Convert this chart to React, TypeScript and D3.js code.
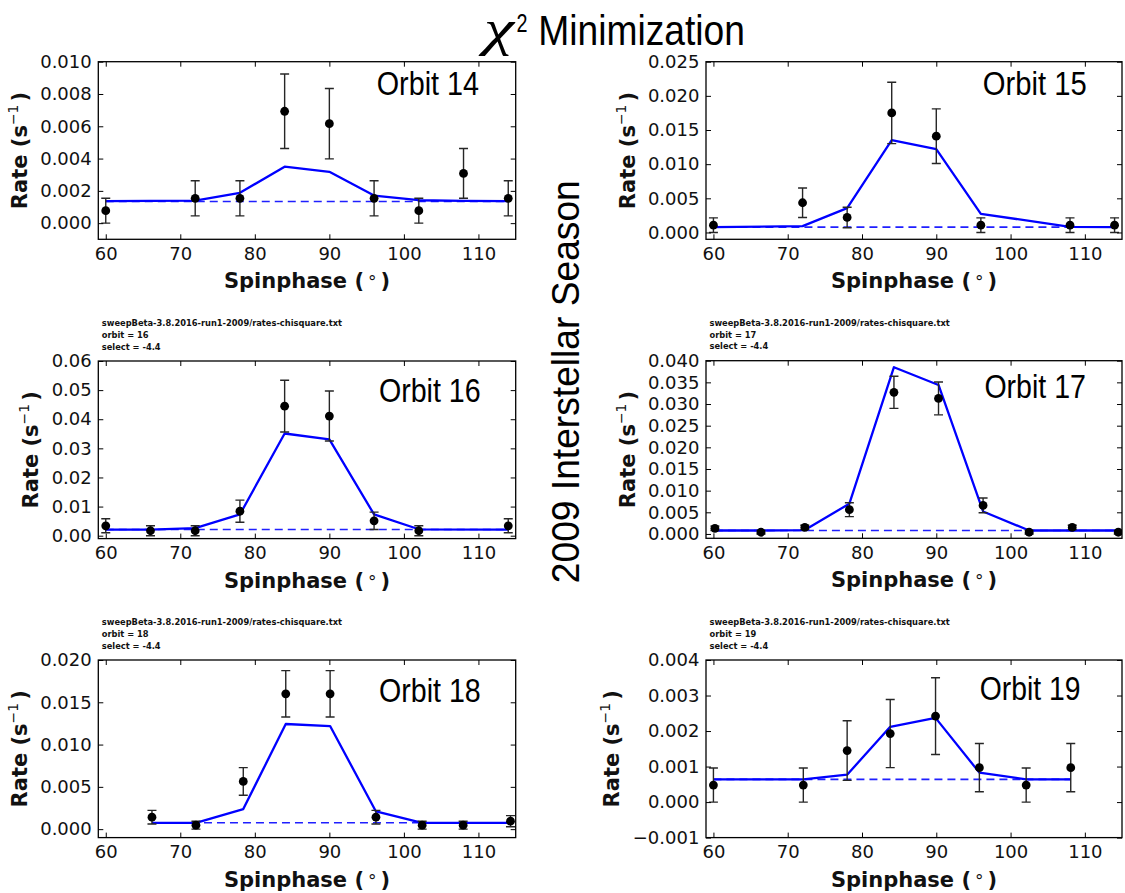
import { useEffect, useRef } from "react";
import * as d3 from "d3";

const WIDTH = 1125;
const HEIGHT = 893;

// ---- Orbit 14 ----
const orbit14Phase = [60, 72, 78, 84, 90, 96, 102, 108, 114];
const orbit14Rate = [0.00077, 0.00154, 0.00154, 0.00693, 0.00616, 0.00154, 0.00077, 0.00308, 0.00154];
const orbit14Err = [0.00077, 0.00109, 0.00109, 0.00231, 0.00218, 0.00109, 0.00077, 0.00154, 0.00109];
const orbit14Model = [0.00136, 0.0014, 0.00188, 0.0035, 0.00318, 0.00171, 0.00142, 0.00138, 0.00136];
const orbit14Base = 0.00134;
const orbit14Ticks = [0, 0.002, 0.004, 0.006, 0.008, 0.01];

// ---- Orbit 15 ----
const orbit15Phase = [60, 72, 78, 84, 90, 96, 108, 114];
const orbit15Rate = [0.00107, 0.00435, 0.0022, 0.0175, 0.0141, 0.00107, 0.00107, 0.00107];
const orbit15Err = [0.00107, 0.00215, 0.0015, 0.0045, 0.004, 0.00107, 0.00107, 0.00107];
const orbit15Model = [0.00078, 0.00093, 0.00356, 0.01353, 0.0122, 0.00273, 0.00083, 0.00078];
const orbit15Base = 0.00078;
const orbit15Ticks = [0, 0.005, 0.01, 0.015, 0.02, 0.025];

// ---- Orbit 16 ----
const orbit16Phase = [60, 66, 72, 78, 84, 90, 96, 102, 114];
const orbit16Rate = [0.0034, 0.0017, 0.0017, 0.0084, 0.0445, 0.0411, 0.0051, 0.0017, 0.0034];
const orbit16Err = [0.0024, 0.0017, 0.0017, 0.0038, 0.0089, 0.0086, 0.003, 0.0017, 0.0024];
const orbit16Model = [0.0021, 0.0021, 0.0026, 0.0073, 0.0351, 0.0331, 0.0073, 0.0022, 0.0021];
const orbit16Base = 0.0021;
const orbit16Ticks = [0, 0.01, 0.02, 0.03, 0.04, 0.05, 0.06];

// ---- Orbit 17 ----
const orbit17Phase = [60.2, 66.4, 72.3, 78.3, 84.3, 90.3, 96.3, 102.5, 108.3, 114.5];
const orbit17Rate = [0.0013, 0.0004, 0.0015, 0.0056, 0.0327, 0.0313, 0.0066, 0.0004, 0.0015, 0.0004];
const orbit17Err = [0.0005, 0.0004, 0.0005, 0.0016, 0.0037, 0.0038, 0.0017, 0.0004, 0.0005, 0.0004];
const orbit17Model = [0.0008, 0.0008, 0.0009, 0.007, 0.0385, 0.0344, 0.0052, 0.0008, 0.0008, 0.0008];
const orbit17Base = 0.0008;
const orbit17Ticks = [0, 0.005, 0.01, 0.015, 0.02, 0.025, 0.03, 0.035, 0.04];

// ---- Orbit 18 ----
const orbit18Phase = [66.2, 72.1, 78.45, 84.15, 90.1, 96.25, 102.45, 107.95, 114.3];
const orbit18Rate = [0.00141, 0.00047, 0.00564, 0.016, 0.016, 0.00141, 0.00047, 0.00047, 0.00094];
const orbit18Err = [0.00081, 0.00047, 0.00163, 0.00274, 0.00274, 0.00081, 0.00047, 0.00047, 0.00066];
const orbit18Model = [0.00075, 0.00075, 0.00237, 0.01243, 0.01219, 0.00209, 0.00075, 0.00075, 0.00075];
const orbit18Base = 0.00075;
const orbit18Ticks = [0, 0.005, 0.01, 0.015, 0.02];

// ---- Orbit 19 ----
const orbit19Phase = [60, 72.1, 78, 83.8, 89.9, 95.8, 102.1, 108.1];
const orbit19Rate = [0.00048, 0.00048, 0.00145, 0.00193, 0.00242, 0.00097, 0.00048, 0.00097];
const orbit19Err = [0.00048, 0.00048, 0.00084, 0.00096, 0.00108, 0.00068, 0.00048, 0.00068];
const orbit19Model = [0.00064, 0.00064, 0.00077, 0.00212, 0.00237, 0.00083, 0.00064, 0.00064];
const orbit19Base = 0.00064;
const orbit19Ticks = [-0.001, 0, 0.001, 0.002, 0.003, 0.004];

const phaseTicks = [60, 70, 80, 90, 100, 110];
const phaseDomain = [59, 115];

const headerFile = "sweepBeta-3.8.2016-run1-2009/rates-chisquare.txt";
const headerSelect = "select = -4.4";

const panels = [
  { name: "Orbit 14", orbit: 14, phase: orbit14Phase, rate: orbit14Rate, err: orbit14Err, model: orbit14Model, base: orbit14Base, yDomain: [-0.001, 0.01], yTicks: orbit14Ticks, yFormat: ".3f", header: false },
  { name: "Orbit 15", orbit: 15, phase: orbit15Phase, rate: orbit15Rate, err: orbit15Err, model: orbit15Model, base: orbit15Base, yDomain: [-0.001, 0.025], yTicks: orbit15Ticks, yFormat: ".3f", header: false },
  { name: "Orbit 16", orbit: 16, phase: orbit16Phase, rate: orbit16Rate, err: orbit16Err, model: orbit16Model, base: orbit16Base, yDomain: [-0.001, 0.06], yTicks: orbit16Ticks, yFormat: ".2f", header: true },
  { name: "Orbit 17", orbit: 17, phase: orbit17Phase, rate: orbit17Rate, err: orbit17Err, model: orbit17Model, base: orbit17Base, yDomain: [-0.001, 0.04], yTicks: orbit17Ticks, yFormat: ".3f", header: true },
  { name: "Orbit 18", orbit: 18, phase: orbit18Phase, rate: orbit18Rate, err: orbit18Err, model: orbit18Model, base: orbit18Base, yDomain: [-0.001, 0.02], yTicks: orbit18Ticks, yFormat: ".3f", header: true },
  { name: "Orbit 19", orbit: 19, phase: orbit19Phase, rate: orbit19Rate, err: orbit19Err, model: orbit19Model, base: orbit19Base, yDomain: [-0.001, 0.004], yTicks: orbit19Ticks, yFormat: ".3f", header: true },
];

// Axes boxes and in-plot label placement
const layout = [
  { left: 98.3, top: 61.7, w: 417.4, h: 177.6, labelX: 376.7, labelW: 102.3, labelY: 95 },
  { left: 706, top: 61.7, w: 416, h: 177.6, labelX: 982.7, labelW: 104, labelY: 95 },
  { left: 98.3, top: 361, w: 417.4, h: 177.6, labelX: 378.9, labelW: 101.8, labelY: 402 },
  { left: 706, top: 360.7, w: 416, h: 177.6, labelX: 984.4, labelW: 101.6, labelY: 398.2 },
  { left: 98.3, top: 660, w: 417.4, h: 177.6, labelX: 379, labelW: 101.7, labelY: 702 },
  { left: 706, top: 660, w: 416, h: 177.6, labelX: 979.8, labelW: 100.8, labelY: 700 },
];

const TICK_FONT = "'DejaVu Sans', sans-serif";
const TITLE_FONT = "'Liberation Sans', Arial, sans-serif";
const GREEK_FONT = "'Liberation Serif', 'DejaVu Serif', serif";

export default function App() {
  const ref = useRef<SVGSVGElement | null>(null);

  useEffect(() => {
    const svg = d3.select(ref.current);
    svg.selectAll("*").remove();

    svg.append("rect").attr("width", WIDTH).attr("height", HEIGHT).attr("fill", "#ffffff");

    // Figure title
    const title = svg.append("g").attr("fill", "#000");
    title.append("text")
      .attr("x", 484).attr("y", 45)
      .attr("font-family", GREEK_FONT).attr("font-size", 50).attr("font-style", "italic")
      .attr("textLength", 30).attr("lengthAdjust", "spacingAndGlyphs")
      .text("χ");
    title.append("text")
      .attr("x", 516.5).attr("y", 31.7)
      .attr("font-family", TITLE_FONT).attr("font-size", 25)
      .attr("textLength", 11).attr("lengthAdjust", "spacingAndGlyphs")
      .text("2");
    title.append("text")
      .attr("x", 538.3).attr("y", 45)
      .attr("font-family", TITLE_FONT).attr("font-size", 42)
      .attr("textLength", 206.7).attr("lengthAdjust", "spacingAndGlyphs")
      .text("Minimization");

    // Season label between the columns
    svg.append("text")
      .attr("transform", "translate(579.3,381.7) rotate(-90)")
      .attr("text-anchor", "middle")
      .attr("font-family", TITLE_FONT).attr("font-size", 38.5)
      .attr("textLength", 403).attr("lengthAdjust", "spacingAndGlyphs")
      .attr("fill", "#000")
      .text("2009 Interstellar Season");

    const defs = svg.append("defs");

    panels.forEach((p, i) => {
      const L = layout[i];
      const x = d3.scaleLinear().domain(phaseDomain).range([L.left, L.left + L.w]);
      const y = d3.scaleLinear().domain(p.yDomain).range([L.top + L.h, L.top]);
      const g = svg.append("g");

      const clipId = `axes-clip-${i}`;
      defs.append("clipPath").attr("id", clipId)
        .append("rect").attr("x", L.left).attr("y", L.top).attr("width", L.w).attr("height", L.h);

      const plot = g.append("g").attr("clip-path", `url(#${clipId})`);

      // Background (flat) level
      plot.append("line")
        .attr("x1", x(p.phase[0])).attr("x2", x(p.phase[p.phase.length - 1]))
        .attr("y1", y(p.base)).attr("y2", y(p.base))
        .attr("stroke", "#1f1fff").attr("stroke-width", 1.6).attr("stroke-dasharray", "8,5");

      // Model curve
      const line = d3.line<number>().x((_, j) => x(p.phase[j])).y((d) => y(d));
      plot.append("path")
        .attr("d", line(p.model))
        .attr("fill", "none").attr("stroke", "#0000ff").attr("stroke-width", 2.3)
        .attr("stroke-linejoin", "round");

      // Error bars
      const eb = plot.append("g").attr("stroke", "#262626").attr("stroke-width", 1.4);
      p.rate.forEach((r, j) => {
        const cx = x(p.phase[j]);
        const y0 = y(r - p.err[j]);
        const y1 = y(r + p.err[j]);
        eb.append("line").attr("x1", cx).attr("x2", cx).attr("y1", y0).attr("y2", y1);
        eb.append("line").attr("x1", cx - 4.5).attr("x2", cx + 4.5).attr("y1", y0).attr("y2", y0);
        eb.append("line").attr("x1", cx - 4.5).attr("x2", cx + 4.5).attr("y1", y1).attr("y2", y1);
      });

      // Measured points
      plot.append("g").selectAll("circle")
        .data(p.rate)
        .join("circle")
        .attr("cx", (_, j) => x(p.phase[j]))
        .attr("cy", (d) => y(d))
        .attr("r", 4.4)
        .attr("fill", "#000");

      // Axes with inward ticks on all four sides
      const styleAxis = (sel: any) => {
        sel.select(".domain").remove();
        sel.selectAll(".tick line").attr("stroke", "#000").attr("stroke-width", 1);
        sel.selectAll(".tick text")
          .attr("font-family", TICK_FONT).attr("font-size", 18).attr("fill", "#111");
        sel.attr("font-family", null).attr("font-size", null);
      };

      const xAxis = g.append("g")
        .attr("transform", `translate(0,${L.top + L.h})`)
        .call(d3.axisBottom(x).tickValues(phaseTicks).tickSizeInner(-5).tickSizeOuter(0).tickPadding(7.9).tickFormat(d3.format("d")));
      styleAxis(xAxis);

      g.append("g")
        .attr("transform", `translate(0,${L.top})`)
        .call(d3.axisTop(x).tickValues(phaseTicks).tickSizeInner(-5).tickSizeOuter(0).tickFormat(() => ""))
        .call(styleAxis);

      const yAxis = g.append("g")
        .attr("transform", `translate(${L.left},0)`)
        .call(d3.axisLeft(y).tickValues(p.yTicks).tickSizeInner(-5).tickSizeOuter(0).tickPadding(6.6).tickFormat(d3.format(p.yFormat)));
      styleAxis(yAxis);

      g.append("g")
        .attr("transform", `translate(${L.left + L.w},0)`)
        .call(d3.axisRight(y).tickValues(p.yTicks).tickSizeInner(-5).tickSizeOuter(0).tickFormat(() => ""))
        .call(styleAxis);

      // Frame
      g.append("rect")
        .attr("x", L.left).attr("y", L.top).attr("width", L.w).attr("height", L.h)
        .attr("fill", "none").attr("stroke", "#000").attr("stroke-width", 1.3);

      // Axis labels
      g.append("text")
        .attr("x", L.left + L.w / 2).attr("y", L.top + L.h + 49)
        .attr("text-anchor", "middle")
        .attr("font-family", TICK_FONT).attr("font-size", 21).attr("font-weight", "bold").attr("fill", "#111")
        .call((t: any) => {
          t.append("tspan").text("Spinphase (");
          t.append("tspan").attr("dx", 4).attr("font-weight", "normal").attr("font-size", 17).text("°");
          t.append("tspan").attr("dx", 4).text(")");
        });

      const yBox = (yAxis.node() as SVGGElement).getBBox();
      const labelBaseX = L.left + yBox.x - 13.3;
      g.append("text")
        .attr("transform", `translate(${labelBaseX},${L.top + L.h / 2}) rotate(-90)`)
        .attr("text-anchor", "middle")
        .attr("font-family", TICK_FONT).attr("font-size", 21).attr("font-weight", "bold").attr("fill", "#111")
        .call((t: any) => {
          t.append("tspan").text("Rate (s");
          t.append("tspan").attr("dy", -9).attr("font-weight", "normal").attr("font-size", 14).text("−1");
          t.append("tspan").attr("dy", 9).attr("dx", 3).text(")");
        });

      // Orbit label inside the axes
      g.append("text")
        .attr("x", L.labelX).attr("y", L.labelY)
        .attr("font-family", TITLE_FONT).attr("font-size", 34).attr("fill", "#000")
        .attr("textLength", L.labelW).attr("lengthAdjust", "spacingAndGlyphs")
        .text(p.name);

      // File header above the axes
      if (p.header) {
        const lines = [headerFile, `orbit = ${p.orbit}`, headerSelect];
        const offsets = [34.7, 22.7, 11.5];
        lines.forEach((s, k) => {
          g.append("text")
            .attr("x", L.left + 3.5).attr("y", L.top - offsets[k])
            .attr("font-family", TICK_FONT).attr("font-size", 8.3).attr("font-weight", "bold").attr("fill", "#111")
            .text(s);
        });
      }
    });
  }, []);

  return (
    <svg
      ref={ref}
      width={WIDTH}
      height={HEIGHT}
      style={{ position: "absolute", left: 0, top: 0, display: "block", background: "#fff" }}
    />
  );
}
